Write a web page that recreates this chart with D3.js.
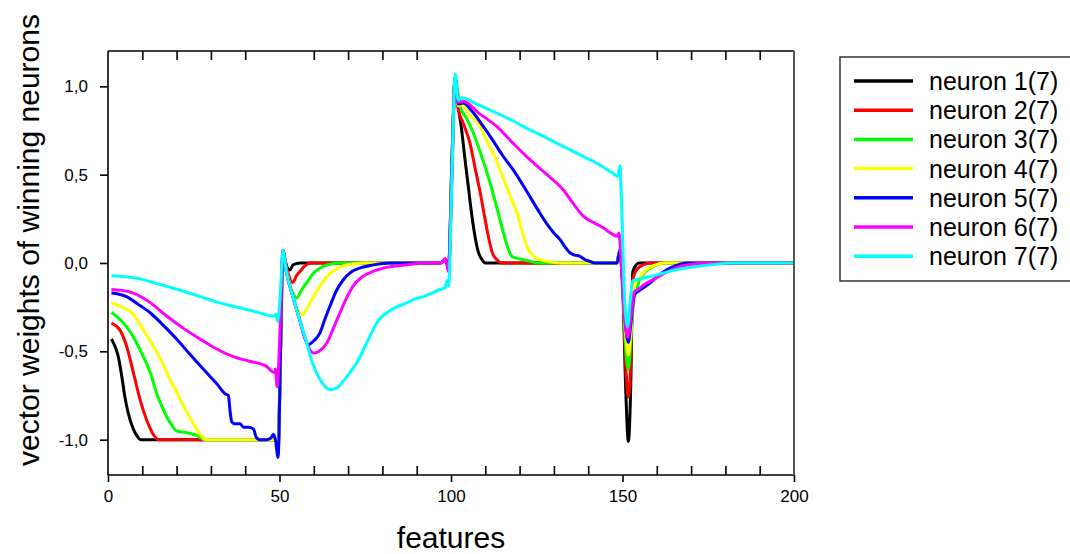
<!DOCTYPE html>
<html>
<head>
<meta charset="utf-8">
<script src="https://cdn.jsdelivr.net/npm/d3@7"></script>
<style>
  body { margin: 0; background: #fff; }
  text { font-family: "Liberation Sans", Arial, sans-serif; }
</style>
</head>
<body>
<div id="chart"></div>
<script>
// values: [feature, weight]
const neuron1 = [[1,-0.43],[2,-0.47],[3,-0.53],[4,-0.64],[4.9,-0.755],[5.9,-0.85],[7.4,-0.94],[8.5,-0.98],[9.5,-1.0],[30,-1.0],[48.8,-1.0],[49.6,-1.04],[50.3,-0.5],[51,0.07],[51.8,0.0],[53,-0.04],[54,-0.01],[56,0],[97,0],[98.4,0.02],[99.3,-0.02],[100.3,0.6],[101.2,1.05],[102,0.9],[103,0.77],[104,0.6],[105,0.44],[106,0.28],[107,0.15],[108,0.06],[109,0.02],[110,0],[148.4,0],[149.2,0.075],[150,-0.1],[151,-0.75],[151.7,-1.01],[152.4,-0.7],[153,-0.05],[154,-0.01],[155,0],[200,0]];
const neuron2 = [[1,-0.34],[3.5,-0.38],[5.4,-0.47],[7.4,-0.62],[9.3,-0.77],[11.3,-0.89],[13.2,-0.97],[14.7,-1.0],[30,-1.0],[48.8,-1.0],[49.6,-1.04],[50.3,-0.5],[51,0.07],[52,-0.02],[53.9,-0.11],[55,-0.07],[56,-0.047],[57.5,-0.015],[59,0],[97,0],[98.4,0.02],[99.3,-0.02],[100.3,0.6],[101.2,1.05],[102.1,0.87],[103.6,0.79],[105.5,0.68],[107,0.54],[108.5,0.4],[110,0.24],[110.9,0.15],[112,0.06],[113.3,0.02],[115,0],[148.4,0],[149.2,0.07],[150,-0.1],[151,-0.6],[151.7,-0.76],[152.4,-0.55],[153,-0.1],[153.4,-0.066],[154.5,-0.03],[156.1,-0.01],[158,0],[200,0]];
const neuron3 = [[1,-0.28],[3,-0.31],[5.4,-0.36],[8,-0.44],[10.3,-0.53],[12.5,-0.63],[14.2,-0.74],[15.7,-0.81],[17.1,-0.87],[18.7,-0.92],[20,-0.95],[22.9,-0.96],[25.8,-0.975],[28.3,-1.0],[48.8,-1.0],[49.6,-1.04],[50.3,-0.5],[51,0.07],[52,-0.04],[53.5,-0.15],[55,-0.198],[56.5,-0.15],[57.9,-0.113],[59.8,-0.06],[61.8,-0.028],[64.5,-0.008],[67.6,0],[97,0],[98.4,0.02],[99.3,-0.03],[100.3,0.55],[101.2,1.05],[102.6,0.887],[104.5,0.82],[106.5,0.736],[109,0.6],[111.4,0.453],[113.4,0.31],[115.3,0.17],[116.5,0.09],[117.7,0.038],[119.5,0.025],[121.1,0.019],[124,0.005],[126,0],[148.4,0],[149.2,0.07],[150,-0.1],[151,-0.5],[151.7,-0.6],[152.4,-0.45],[153.3,-0.2],[154,-0.16],[155,-0.094],[157,-0.045],[159,-0.02],[161,-0.005],[163,0],[200,0]];
const neuron4 = [[1,-0.225],[4,-0.25],[7.4,-0.29],[10,-0.37],[13.2,-0.47],[15.7,-0.56],[18.1,-0.66],[20,-0.73],[22,-0.81],[24,-0.88],[25.8,-0.94],[27.3,-0.98],[28.7,-1.0],[48.8,-1.0],[49.6,-1.04],[50.3,-0.5],[51,0.07],[52,-0.04],[53.5,-0.16],[55,-0.25],[56.5,-0.293],[58,-0.26],[59.9,-0.19],[61.8,-0.13],[63.8,-0.076],[66.5,-0.035],[69.7,-0.01],[74.9,0],[97,0],[98.4,0.02],[99.3,-0.03],[100.3,0.55],[101.2,1.05],[102.1,0.89],[103.1,0.896],[105.5,0.84],[108.5,0.773],[110.5,0.69],[112.5,0.61],[114.3,0.528],[116,0.44],[117.6,0.36],[119.2,0.283],[120.6,0.19],[122.1,0.094],[124,0.04],[126,0.019],[129.5,0.005],[132,0],[148.4,0],[149.2,0.07],[150,-0.1],[151,-0.42],[151.7,-0.52],[152.4,-0.4],[153.3,-0.13],[155,-0.08],[157,-0.038],[159.5,-0.012],[161.9,0],[200,0]];
const neuron5 = [[1,-0.17],[3,-0.175],[5.4,-0.19],[8.5,-0.23],[12.2,-0.28],[16,-0.35],[20,-0.43],[24,-0.52],[28.7,-0.62],[32,-0.69],[34.1,-0.74],[35.1,-0.75],[35.6,-0.84],[36.1,-0.9],[37,-0.91],[38.5,-0.91],[39.5,-0.93],[41,-0.93],[42.4,-0.94],[43.3,-0.99],[44.3,-1.0],[46,-1.0],[47.5,-0.99],[48.2,-0.97],[48.8,-1.0],[49.6,-1.1],[50.3,-0.5],[51,0.07],[52,-0.05],[53.9,-0.19],[56,-0.33],[57.3,-0.42],[58.4,-0.462],[60,-0.44],[61.8,-0.396],[63.2,-0.32],[64.7,-0.245],[66.5,-0.16],[68.6,-0.095],[71,-0.05],[73.5,-0.028],[77,-0.012],[82.2,0],[97,0],[98.4,0.02],[99.3,-0.03],[100.3,0.55],[101.2,1.05],[102.1,0.9],[103.6,0.906],[106.5,0.85],[109.4,0.773],[112,0.7],[115,0.61],[118.1,0.528],[121,0.44],[123.5,0.36],[125.9,0.283],[128,0.22],[130,0.17],[131.8,0.132],[133.3,0.09],[134.7,0.057],[136,0.045],[137.6,0.038],[139,0.02],[140.5,0.009],[142,0],[148.4,0],[149.2,0.07],[150,-0.1],[151,-0.38],[151.7,-0.45],[152.4,-0.35],[153.5,-0.18],[154.6,-0.16],[156.5,-0.135],[158,-0.113],[160.5,-0.07],[162.9,-0.038],[165.5,-0.015],[168.7,0],[200,0]];
const neuron6 = [[1,-0.15],[4,-0.155],[7.4,-0.17],[12,-0.22],[17.1,-0.3],[22,-0.37],[26.8,-0.43],[31,-0.48],[36.5,-0.53],[41,-0.555],[46.2,-0.585],[48.5,-0.62],[48.8,-0.6],[49.3,-0.7],[50.3,-0.3],[51,0.07],[52,-0.05],[53.9,-0.19],[56,-0.33],[57.9,-0.45],[59.9,-0.51],[61.5,-0.5],[63.8,-0.453],[65.7,-0.37],[67.6,-0.283],[69.5,-0.2],[71.4,-0.132],[74,-0.08],[77.3,-0.047],[82,-0.022],[87,-0.01],[92.9,0],[97,0],[98.4,0.025],[99.3,-0.05],[100.3,0.5],[101.2,1.05],[102.1,0.91],[103.6,0.915],[108,0.85],[113.3,0.773],[118,0.68],[123,0.585],[128,0.5],[132.7,0.415],[135.5,0.34],[138.6,0.264],[141.5,0.23],[144.5,0.198],[146.5,0.17],[148.4,0.151],[149,0.17],[149.6,0.0],[150.6,-0.3],[151.6,-0.42],[152.5,-0.3],[153.5,-0.16],[154.5,-0.15],[156.5,-0.12],[159,-0.094],[163,-0.05],[166.8,-0.02],[170,-0.008],[174.6,0],[200,0]];
const neuron7 = [[1,-0.072],[5,-0.078],[9.3,-0.09],[13,-0.11],[17.1,-0.132],[22,-0.16],[26.8,-0.19],[31.5,-0.22],[36.5,-0.245],[42,-0.27],[48.4,-0.3],[48.9,-0.29],[49.5,-0.33],[50.3,-0.15],[51,0.07],[52,-0.05],[53.9,-0.19],[56,-0.33],[57.9,-0.45],[59.5,-0.56],[60.8,-0.62],[62.5,-0.68],[64.7,-0.717],[66.5,-0.71],[68.5,-0.67],[70.5,-0.62],[72.5,-0.566],[75,-0.47],[77.3,-0.377],[79,-0.32],[81.2,-0.283],[84,-0.25],[87,-0.226],[90,-0.2],[92,-0.19],[94.5,-0.17],[96.8,-0.15],[98.3,-0.14],[98.8,-0.1],[99.3,-0.13],[100.3,0.5],[101.2,1.07],[102.1,0.92],[103.1,0.935],[108,0.895],[113.3,0.849],[118,0.805],[123,0.754],[128,0.707],[132.7,0.66],[137.5,0.613],[142.4,0.566],[145,0.535],[147.8,0.5],[148.6,0.49],[149.2,0.55],[149.8,0.3],[150.6,-0.2],[151.5,-0.36],[152.3,-0.2],[153,-0.1],[154,-0.094],[156,-0.085],[158.5,-0.075],[161.9,-0.057],[166,-0.037],[171.6,-0.02],[176,-0.01],[181.3,0],[200,0]];

const seriesNames = ["neuron 1(7)","neuron 2(7)","neuron 3(7)","neuron 4(7)","neuron 5(7)","neuron 6(7)","neuron 7(7)"];
const seriesValues = [neuron1, neuron2, neuron3, neuron4, neuron5, neuron6, neuron7];
const seriesColors = ["#000000","#ff0000","#00ff00","#ffff00","#0000ff","#ff00ff","#00ffff"];
const xMajorTicks = [0, 50, 100, 150, 200];
const xMinorTicks = [10,20,30,40,60,70,80,90,110,120,130,140,160,170,180,190];
const yTicks = [-1.0, -0.5, 0.0, 0.5, 1.0];

const W = 1070, H = 554;
const plot = {left: 108, right: 794, top: 51, bottom: 475};

const x = d3.scaleLinear().domain([0, 200]).range([plot.left, plot.right]);
const y = d3.scaleLinear().domain([-1.2, 1.2]).range([plot.bottom, plot.top]);

const svg = d3.select("#chart").append("svg").attr("width", W).attr("height", H);

// curves
const line = d3.line().x(d => x(d[0])).y(d => y(d[1])).curve(d3.curveMonotoneX);
svg.append("g").attr("id","curves")
  .selectAll("path")
  .data(seriesValues)
  .enter()
  .append("path")
  .attr("d", line)
  .attr("fill","none")
  .attr("stroke", (d,i) => seriesColors[i])
  .attr("stroke-width", 3)
  .attr("stroke-linejoin","round");

// frame
const frame = svg.append("g").attr("id","frame");
frame.append("line").attr("x1",plot.left).attr("x2",plot.right).attr("y1",plot.top).attr("y2",plot.top).attr("stroke","#000").attr("stroke-width",1.6);
frame.append("line").attr("x1",plot.left).attr("x2",plot.right).attr("y1",plot.bottom).attr("y2",plot.bottom).attr("stroke","#000").attr("stroke-width",1.6);
frame.append("line").attr("x1",plot.left).attr("x2",plot.left).attr("y1",plot.top).attr("y2",plot.bottom).attr("stroke","#000").attr("stroke-width",1.6);
frame.append("line").attr("x1",plot.right).attr("x2",plot.right).attr("y1",plot.top).attr("y2",plot.bottom).attr("stroke","#555").attr("stroke-width",2);

const fmt = v => d3.format(".1f")(v).replace(".", ",").replace("−","-");

// bottom axis: major ticks out, minor ticks in
svg.append("g").attr("transform","translate(0," + plot.bottom + ")")
  .call(d3.axisBottom(x).tickValues(xMajorTicks).tickFormat(d => d).tickSize(7).tickPadding(8).tickSizeOuter(0));
svg.append("g").attr("transform","translate(0," + plot.bottom + ")")
  .call(d3.axisBottom(x).tickValues(xMinorTicks).tickFormat("").tickSize(-9).tickSizeOuter(0));
svg.append("g").attr("transform","translate(0," + plot.top + ")")
  .call(d3.axisTop(x).tickValues(xMinorTicks).tickFormat("").tickSize(-9).tickSizeOuter(0));

svg.append("g").attr("transform","translate(" + plot.left + ",0)")
  .call(d3.axisLeft(y).tickValues(yTicks).tickFormat(fmt).tickSize(8).tickPadding(12).tickSizeOuter(0));

svg.selectAll(".domain").remove();
svg.selectAll(".tick line").attr("stroke","#000").attr("stroke-width",1.6);
svg.selectAll(".tick text").style("font-size","17px").attr("fill","#000");

// axis titles
svg.append("text")
  .attr("x", (plot.left + plot.right) / 2)
  .attr("y", 548)
  .attr("text-anchor","middle")
  .style("font-size","30px")
  .text("features");

svg.append("text")
  .attr("transform","translate(39," + 240 + ") rotate(-90)")
  .attr("text-anchor","middle")
  .style("font-size","30px")
  .text("vector weights of winning neurons");

// legend
const legend = svg.append("g").attr("id","legend");
legend.append("rect")
  .attr("x", 840).attr("y", 57).attr("width", 240).attr("height", 224)
  .attr("fill","#fff").attr("stroke","#333").attr("stroke-width",1.5);
const rows = legend.selectAll(".legend-row")
  .data(seriesNames)
  .enter()
  .append("g")
  .attr("class","legend-row")
  .attr("transform", (d,i) => "translate(0," + (81 + i * 29.2) + ")");
rows.append("line")
  .attr("x1", 854).attr("x2", 913)
  .attr("stroke", (d,i) => seriesColors[i])
  .attr("stroke-width", 3.5);
rows.append("text")
  .attr("x", 929).attr("y", 9)
  .style("font-size","25px")
  .text(d => d);
</script>
</body>
</html>
